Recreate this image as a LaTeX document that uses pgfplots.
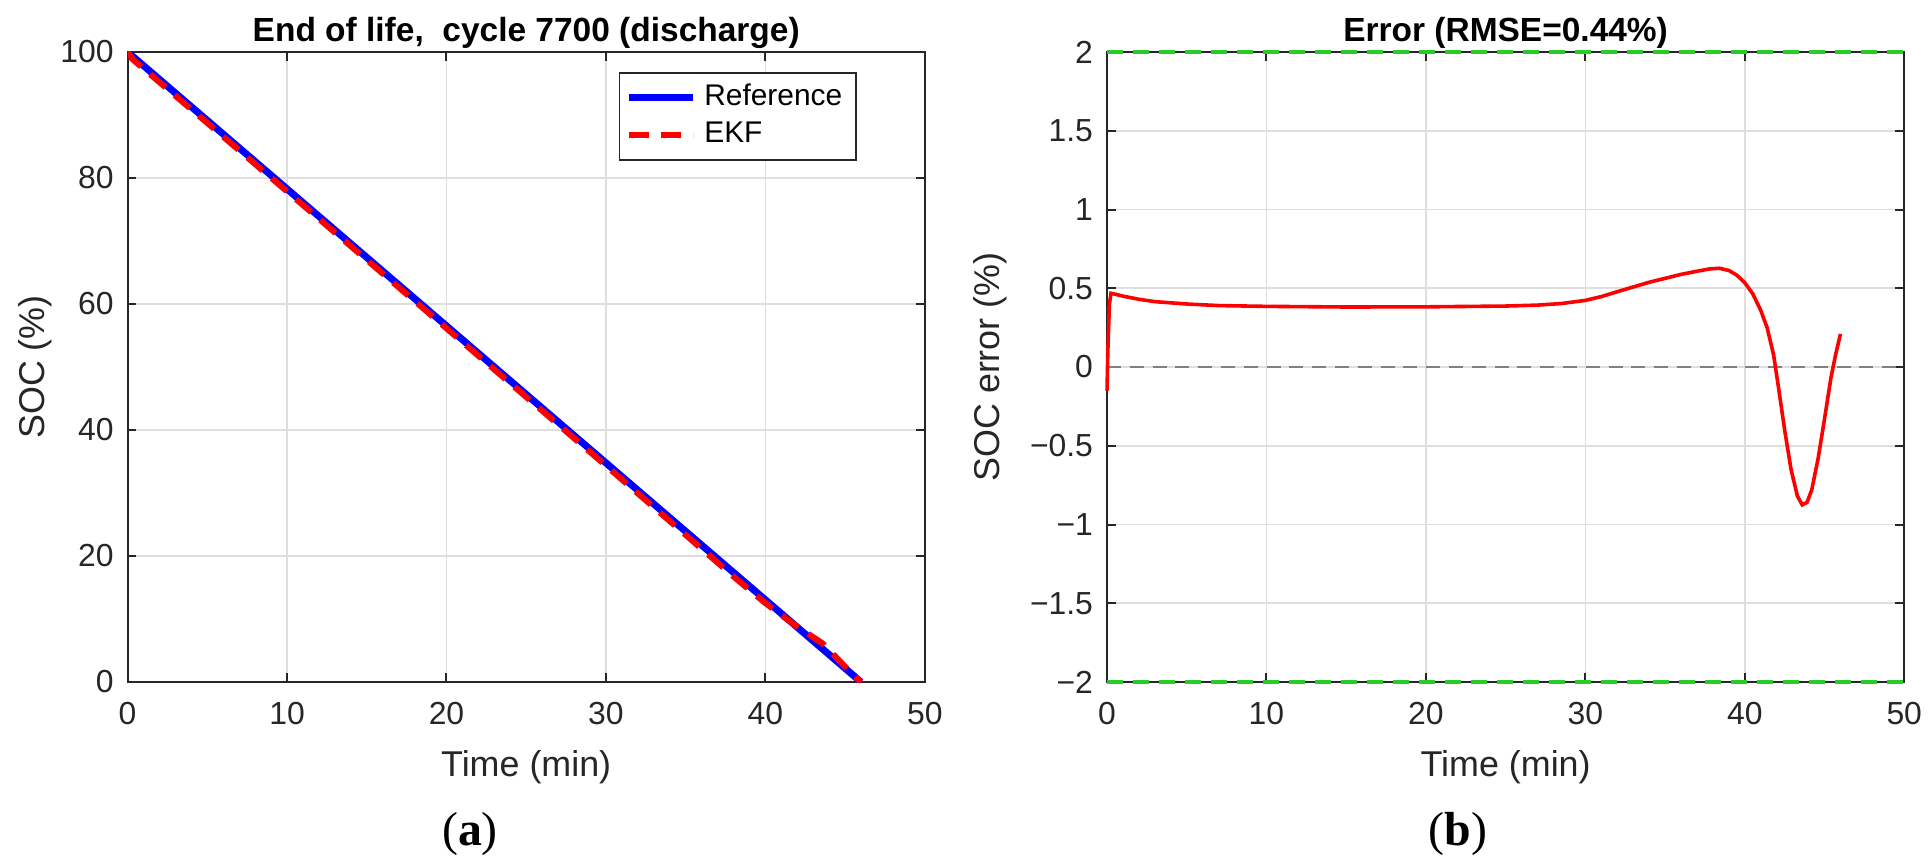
\documentclass[border=0pt]{standalone}
\usepackage{fontspec}
\setmainfont{Liberation Sans}
\newfontfamily\capfont{Liberation Serif}
\usepackage{pgfplots}
\pgfplotsset{compat=1.18}
\definecolor{axc}{RGB}{38,38,38}
\definecolor{grc}{RGB}{222,222,222}
\definecolor{mgreen}{RGB}{40,205,40}
\pgfplotsset{mystyle/.style={
  scale only axis, width=199.3bp, height=157.5bp,
  axis line style={draw=axc, line width=0.5bp},
  tick style={draw=axc, line width=0.5bp},
  major tick length=2.2bp, tick align=inside,
  xtick pos=both, ytick pos=both,
  grid=major, major grid style={draw=grc, line width=0.4bp},
  ticklabel style={font=\fontsize{8}{9}\selectfont, text=axc},
  xticklabel style={yshift=-1.5bp},
  yticklabel style={xshift=0bp},
  label style={font=\fontsize{9}{10}\selectfont, text=axc},
  every axis title shift=0pt,
  title style={font=\bfseries\fontsize{8.4}{10}\selectfont, at={(axis description cs:0.5,1.016)}, anchor=base},
  /pgf/number format/assume math mode=true,
  xmin=0, xmax=50, xtick={0,10,...,50},
  xlabel style={at={(axis description cs:0.5,-0.135)}, anchor=center},
}}
\begin{document}
\begin{tikzpicture}[x=1bp,y=1bp]
\useasboundingbox (0,0) rectangle (483,215.5);
\begin{axis}[mystyle, at={(31.9bp,45bp)}, anchor=south west,
  ymin=0, ymax=100, ytick={0,20,...,100},
  xlabel={Time (min)}, ylabel={SOC (\%)},
  ylabel style={at={(axis description cs:-0.116,0.5)}, anchor=center},
  title={End of life,\ \ cycle 7700 (discharge)},
  legend style={at={(axis description cs:0.915,0.968)}, anchor=north east,
    draw=axc, line width=0.4bp, font=\fontsize{7.5}{9}\selectfont,
    inner xsep=1.5bp, inner ysep=1.5bp, row sep=0bp,
    nodes={inner ysep=1.3bp, inner xsep=2bp}},
  legend cell align=left,
  legend image code/.code={\draw[#1] (0bp,0bp) -- (16bp,0bp);},
]
\addplot[blue, line width=1.75bp] coordinates {(0,100) (46,0)};
\addlegendentry{Reference}
\addplot[red, line width=1.5bp, dash pattern=on 5bp off 3bp] coordinates {
(0,100) (0.3,98.88) (5,88.73) (10,77.87) (20,56.14) (30,34.35) (35,23.35)
(38.3,16.11) (40,12.53) (41.8,9.13) (43.6,6.10) (45.6,0.87) (46,0)};
\addlegendentry{EKF}
\end{axis}
\begin{axis}[mystyle, at={(276.75bp,45bp)}, anchor=south west, clip=false,
  ymin=-2, ymax=2, ytick={-2,-1.5,-1,-0.5,0,0.5,1,1.5,2},
  yticklabels={−2,−1.5,−1,−0.5,0,0.5,1,1.5,2},
  xlabel={Time (min)}, ylabel={SOC error (\%)},
  ylabel style={at={(axis description cs:-0.147,0.5)}, anchor=center},
  title={Error (RMSE=0.44\%)},
]
\addplot[black!50, line width=0.6bp, dash pattern=on 3.5bp off 2.2bp] coordinates {(0,0) (50,0)};
\addplot[mgreen, line width=0.9bp, dash pattern=on 4bp off 2.5bp] coordinates {(0,2) (50,2)};
\addplot[mgreen, line width=0.9bp, dash pattern=on 4bp off 2.5bp] coordinates {(0,-2) (50,-2)};
\addplot[red, line width=0.9bp] coordinates {
(0,-0.15) (0.05,0.1) (0.15,0.40) (0.25,0.468) (0.6,0.46) (1,0.45) (2,0.43) (3,0.415)
(5,0.40) (7,0.39) (10,0.385) (15,0.381) (20,0.382) (25,0.387) (27,0.393) (28.5,0.403)
(30,0.423) (31,0.447) (32,0.478) (33,0.508) (34,0.538) (35,0.563) (36,0.588) (37,0.608)
(37.8,0.623) (38.4,0.627) (39,0.613) (39.5,0.583) (40,0.535) (40.5,0.465) (41,0.36)
(41.4,0.25) (41.8,0.08) (42.1,-0.12) (42.5,-0.40) (42.9,-0.65) (43.3,-0.82) (43.6,-0.875)
(43.9,-0.86) (44.2,-0.78) (44.6,-0.58) (45.0,-0.33) (45.4,-0.07) (45.7,0.08) (46.0,0.21)};
\end{axis}
\node[font=\capfont\fontsize{12}{14}\selectfont] at (117.5,7) {(\textbf{a})};
\node[font=\capfont\fontsize{12}{14}\selectfont] at (364.5,7) {(\textbf{b})};
\end{tikzpicture}
\end{document}
